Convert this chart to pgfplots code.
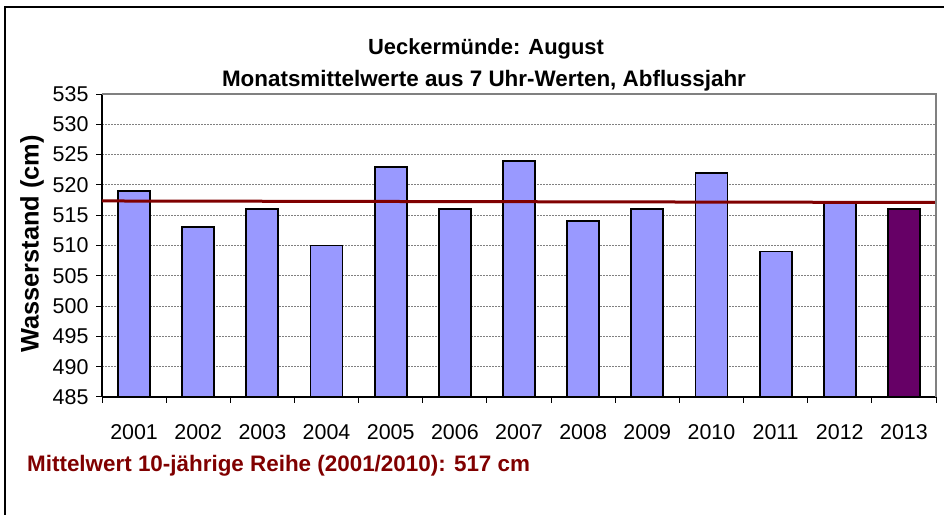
\documentclass[border=0pt]{standalone}
\usepackage{pgfplots}
\pgfplotsset{compat=1.18}
\usepackage{fontspec}
\setmainfont{Liberation Sans}
\definecolor{barblue}{RGB}{153,153,255}
\definecolor{barlast}{RGB}{102,0,102}
\definecolor{meanred}{RGB}{128,0,0}
\definecolor{gridgray}{RGB}{128,128,128}

\begin{document}
\begin{tikzpicture}
\useasboundingbox (0,0) rectangle (944bp,515bp);
% outer chart frame (left and top edges only visible)
\draw[black, line width=2bp] (5bp,0) -- (5bp,508bp) -- (944bp,508bp);

\begin{axis}[
    at={(102bp,118bp)},
    anchor=south west,
    scale only axis,
    width=834bp,
    height=303bp,
    ybar,
    bar width=32bp,
    bar shift=0pt,
    xmin=-0.5, xmax=12.5,
    ymin=485, ymax=535,
    ytick={485,490,...,535},
    xtick={-0.5,0.5,...,12.5},
    xticklabels={2001,2002,2003,2004,2005,2006,2007,2008,2009,2010,2011,2012,2013,},
    xticklabel style={xshift=32.08bp, yshift=-18bp},
    yticklabel style={xshift=-4bp},
    tick align=outside,
    major tick length=6bp,
    tick style={black, line width=1bp},
    axis x line*=bottom,
    axis y line*=left,
    axis line style={black, line width=1.5bp, -},
    ymajorgrids,
    grid style={gridgray, line width=1bp, dash pattern=on 2bp off 1bp},
    tick label style={font=\fontsize{21.5}{25}\selectfont},
    /pgf/number format/assume math mode=true,
    clip=false,
]
\addplot[fill=barblue, draw=black, line width=1.8bp] coordinates {
    (0,519) (1,513) (2,516) (3,510) (4,523) (5,516)
    (6,524) (7,514) (8,516) (9,522) (10,509) (11,517)
};
\addplot[fill=barlast, draw=black, line width=1.8bp] coordinates {
    (12,516)
};
% 10-year mean
\addplot[sharp plot, no marks, meanred, line width=3bp] coordinates {
    (-0.5,517.35) (12.5,517.1)
};
\end{axis}

% plot-area border, top and right
\draw[gridgray, line width=2bp] (102bp,421bp) -- (936bp,421bp) -- (936bp,118bp);

\node[font=\bfseries\fontsize{22}{26}\selectfont] at (486bp,466bp) {Ueckermünde: August};
\node[font=\bfseries\fontsize{22.5}{27}\selectfont] at (484bp,434bp) {Monatsmittelwerte aus 7 Uhr-Werten, Abflussjahr};
\node[rotate=90, font=\bfseries\fontsize{25.5}{30}\selectfont] at (32bp,271bp) {Wasserstand (cm)};
\node[anchor=west, text=meanred, font=\bfseries\fontsize{22.5}{26}\selectfont, inner sep=0pt] at (27bp,49bp) {Mittelwert 10-jährige Reihe (2001/2010): 517 cm};
\end{tikzpicture}
\end{document}
